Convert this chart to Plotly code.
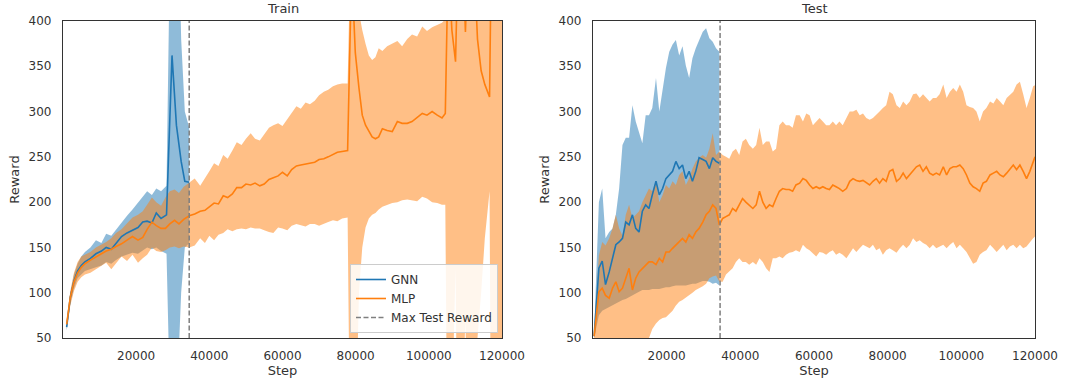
import plotly.graph_objects as go

# ---------------- data ----------------
max_test_step = 34500
y_min, y_max = 50, 400
x_ticks = [20000, 40000, 60000, 80000, 100000, 120000]
y_ticks = [50, 100, 150, 200, 250, 300, 350, 400]

train_gnn_step = [1000, 2000, 3000, 4000, 5000, 6000, 7500, 9000, 10500, 11800, 13200, 14500, 16000,
                  17500, 19000, 20500, 21800, 23000, 24300, 25500, 26800, 28300, 29800, 31000, 32300,
                  33300, 34500]
train_gnn_mean = [62, 95, 113, 124, 130, 134, 138, 143, 146, 150, 148, 155, 162, 166, 169, 172, 178, 179,
                  177, 188, 182, 186, 362, 285, 245, 223, 222]
train_gnn_lo = [58, 88, 105, 116, 120, 124, 126, 128, 130, 134, 132, 136, 140, 142, 144, 143, 147, 150,
                148, 150, 146, 143, -115, -30, 100, 150, 155]
train_gnn_hi = [66, 100, 120, 132, 140, 145, 150, 158, 155, 165, 163, 170, 178, 185, 192, 200, 206, 212,
                208, 215, 212, 218, 640, 600, 380, 300, 282]

train_mlp_step = [1000, 2000, 3000, 4000, 5000, 6000, 7500, 9000, 10500, 11800,
                  13200, 14500, 16000, 17500, 19000, 20500, 21800, 23000, 24300, 25500,
                  26800, 28000, 29200, 30500, 31700, 33000, 34500, 36000, 37500, 38800,
                  40000, 41300, 42500, 43800, 45000, 46300, 47500, 48800, 50000, 51300,
                  52500, 53800, 55000, 56300, 57500, 58800, 60000, 61300, 62500, 63800,
                  65000, 66300, 67500, 68800, 70000, 71300, 72500, 73800, 75000, 76300,
                  77800, 78900, 79900, 80900, 81800, 82700, 83600, 84500, 85400, 86300,
                  87300, 88600, 90000, 91400, 92700, 94100, 95400, 96800, 98200, 99500,
                  100900, 102300, 103600, 104500, 105300, 106300, 107300, 108000, 109300, 110000,
                  110800, 112300, 113300, 114300, 115300, 116600, 117200, 118500, 120000]
train_mlp_mean = [65, 95, 112, 122, 128, 132, 136, 140, 143, 146,
                  148, 151, 154, 158, 162, 158, 161, 170, 178, 174,
                  171, 171, 176, 180, 176, 181, 185, 187, 190, 191,
                  195, 199, 198, 207, 205, 209, 216, 216, 220, 219,
                  221, 218, 220, 225, 227, 229, 233, 229, 236, 240,
                  241, 242, 243, 244, 247, 248, 250, 253, 255, 256,
                  257, 460, 365, 326, 296, 285, 278, 272, 270, 272,
                  281, 279, 278, 289, 287, 287, 289, 293, 298, 296,
                  300, 296, 293, 298, 470, 390, 355, 480, 470, 388,
                  480, 470, 380, 345, 330, 316, 520, 540, 500]
train_mlp_lo = [60, 86, 102, 112, 117, 120, 122, 126, 130, 133,
                126, 132, 140, 135, 142, 133, 138, 142, 150, 146,
                145, 147, 150, 151, 149, 151, 150, 152, 160, 155,
                163, 158, 164, 166, 170, 168, 170, 171, 170, 172,
                171, 171, 169, 167, 166, 172, 171, 169, 174, 176,
                175, 173, 176, 176, 174, 176, 178, 180, 179, 182,
                183, -250, -100, 100, 150, 172, 182, 186, 188, 192,
                195, 197, 199, 200, 202, 203, 202, 201, 206, 204,
                200, 199, 197, 197, -200, -150, 127, -150, -100, 70,
                -100, -100, 50, 100, 160, 212, -250, -300, -250]
train_mlp_hi = [70, 102, 122, 134, 140, 142, 145, 150, 153, 156,
                160, 166, 170, 176, 183, 186, 190, 197, 205, 200,
                196, 205, 212, 214, 210, 217, 222, 226, 218, 226,
                234, 243, 240, 252, 248, 257, 266, 263, 270, 276,
                270, 268, 275, 282, 285, 287, 284, 292, 298, 306,
                303, 310, 308, 312, 318, 322, 324, 328, 330, 331,
                331, 700, 720, 410, 390, 375, 362, 357, 360, 370,
                367, 372, 375, 378, 372, 380, 385, 383, 394, 389,
                393, 396, 398, 402, 700, 700, 650, 720, 700, 680,
                720, 700, 680, 650, 640, 620, 750, 780, 760]

test_gnn_step = [300, 1600, 2500, 3400, 4400, 5300, 6200, 7100, 8000, 8900, 9800, 10700, 11600,
                 12500, 13400, 14300, 15200, 16100, 17100, 18000, 18900, 19800, 20700, 21600,
                 22500, 23400, 24300, 25200, 26100, 27000, 27900, 28800, 29800, 30700, 31600,
                 32500, 33400, 34300]
test_gnn_mean = [52, 127, 135, 109, 123, 138, 153, 156, 160, 178, 175, 186, 171, 167, 190, 197, 193,
                 208, 223, 208, 215, 226, 230, 234, 245, 237, 241, 226, 234, 223, 234, 249, 247, 245,
                 237, 249, 245, 243]
test_gnn_hi = [55, 200, 215, 160, 167, 171, 186, 215, 263, 271, 271, 307, 289, 278, 265, 296, 296, 304,
               337, 300, 326, 348, 366, 374, 379, 362, 372, 351, 337, 359, 370, 379, 388, 392, 381,
               377, 370, 366]
test_gnn_lo = [50, 75, 80, 82, 84, 86, 88, 90, 92, 93, 95, 97, 99, 101, 103, 103, 103, 104, 104, 104,
               105, 106, 106, 107, 108, 108, 108, 108, 109, 110, 110, 111, 113, 113, 112, 110, 111, 108]

test_mlp_step = [300, 1600, 2500, 3400, 4400, 5300, 6200, 7100, 8000, 8900, 9800, 10700, 11600,
                 12500, 13400, 14300, 15200, 16100, 17100, 18000, 18900, 19800, 20700, 21600,
                 22500, 23400, 24300, 25200, 26100, 27000, 27900, 28800, 29800, 30700, 31600,
                 32500, 33400, 34300,
                 35200, 36100,
                 37000, 37900, 38800, 39700, 40600, 41500, 42400, 43400, 44300, 45200, 46100, 47000,
                 47900, 48800, 49700, 50600, 51500, 52400, 53300, 54200, 55100, 56100, 57000, 57900,
                 58800, 59700, 60600, 61500, 62400, 63300, 64200, 65100, 66000, 66900, 67800, 68800,
                 69700, 70600, 71500, 72400, 73300, 74200, 75100, 76000, 76900, 77800, 78700, 79600,
                 80500, 81400, 82400, 83300, 84200, 85100, 86000, 86900, 87800, 88700, 89600, 90500,
                 91400, 92300, 93200, 94100, 95100, 96000, 96900, 97800, 98700, 99600, 100500, 101400,
                 102300, 103200, 104100, 105000, 105900, 106800, 107800, 108700, 109600, 110500,
                 111400, 112300, 113200, 114100, 115000, 115900, 116800, 117700, 118600, 119500,
                 120000]
test_mlp_mean = [52, 101, 105, 97, 94, 105, 112, 101, 105, 116, 127, 103, 116, 123, 127, 131, 134, 134,
                 131, 138, 134, 145, 145, 149, 153, 156, 160, 156, 164, 160, 167, 171, 178, 186, 190,
                 197, 193, 175,
                 182, 184,
                 186, 193, 190, 197, 204, 200, 197, 193, 197, 212, 200, 193, 197, 195, 204, 212, 215,
                 214, 214, 212, 219, 221, 226, 224, 219, 215, 217, 215, 217, 215, 214, 219, 217, 215,
                 212, 215, 223, 226, 224, 223, 224, 221, 219, 223, 226, 221, 226, 223,
                 234, 236, 223, 226, 232, 226, 230, 234, 239, 241, 234, 239, 232, 230, 232, 230, 239,
                 230, 237, 239, 239, 241, 237, 230, 221, 217, 215, 212, 221, 223, 230, 232, 234, 230,
                 228, 232, 237, 241, 236, 241, 234, 226, 234, 245, 250]
test_mlp_hi = [55, 141, 156, 152, 160, 171, 186, 171, 163, 186, 197, 182, 186, 190, 200, 208, 215, 212,
               223, 200, 208, 219, 215, 223, 219, 230, 234, 219, 226, 237, 245, 249, 252, 249, 259,
               276, 252, 256,
               252, 250,
               248, 256, 259, 252, 267, 270, 263, 259, 263, 282, 263, 267, 267, 256, 259, 285, 289,
               285, 285, 282, 296, 296, 289, 298, 296, 285, 289, 293, 289, 285, 285, 289, 285, 289,
               285, 293, 300, 300, 302, 296, 298, 293, 291, 293, 296, 300, 304, 307,
               322, 319, 307, 304, 311, 307, 311, 319, 320, 315, 319, 315, 311, 315, 315, 319, 330,
               315, 322, 326, 322, 330, 322, 307, 305, 304, 300, 289, 300, 304, 311, 309, 315, 311,
               307, 315, 319, 322, 330, 333, 319, 304, 315, 328, 329]
test_mlp_lo = [48, 40, 45, 42, 40, 38, 42, 35, 40, 45, 40, 45, 40, 48, 42, 46, 50, 60, 66, 70, 72, 73,
               76, 80, 86, 90, 92, 95, 97, 100, 103, 105, 107, 110, 116, 118, 119, 112,
               112, 120,
               123, 127, 134, 138, 134, 134, 131, 134, 131, 138, 134, 127, 123, 138, 138, 140, 138,
               142, 144, 145, 147, 145, 153, 149, 147, 144, 140, 145, 144, 142, 145, 147, 142, 144,
               142, 138, 144, 149, 145, 149, 153, 151, 149, 153, 147, 149, 142, 147,
               149, 147, 144, 149, 153, 149, 153, 160, 156, 158, 155, 153, 149, 153, 149, 151, 153,
               149, 153, 156, 149, 153, 149, 145, 138, 132, 134, 142, 145, 147, 153, 149, 145, 149,
               153, 147, 151, 153, 149, 153, 149, 151, 156, 160, 162]

# ---------------- style ----------------
BLUE = "#1f77b4"
ORANGE = "#ff7f0e"
BLUE_FILL = "rgba(31,119,180,0.5)"
ORANGE_FILL = "rgba(255,127,14,0.5)"
TEXT = "#333333"
FONT = "DejaVu Sans"

fig = go.Figure()


def band(x, lo, hi, color, xa, ya):
    return go.Scatter(x=list(x) + list(x)[::-1], y=list(hi) + list(lo)[::-1], mode="lines",
                      fill="toself", fillcolor=color, line=dict(width=0, color=color),
                      hoverinfo="skip", showlegend=False, xaxis=xa, yaxis=ya)


fig.add_trace(band(train_gnn_step, train_gnn_lo, train_gnn_hi, BLUE_FILL, "x", "y"))
fig.add_trace(band(train_mlp_step, train_mlp_lo, train_mlp_hi, ORANGE_FILL, "x", "y"))
fig.add_trace(band(test_gnn_step, test_gnn_lo, test_gnn_hi, BLUE_FILL, "x2", "y2"))
fig.add_trace(band(test_mlp_step, test_mlp_lo, test_mlp_hi, ORANGE_FILL, "x2", "y2"))

fig.add_trace(go.Scatter(x=train_gnn_step, y=train_gnn_mean, mode="lines", name="GNN",
                         line=dict(color=BLUE, width=1.6), legendrank=1, xaxis="x", yaxis="y"))
fig.add_trace(go.Scatter(x=train_mlp_step, y=train_mlp_mean, mode="lines", name="MLP",
                         line=dict(color=ORANGE, width=1.6), legendrank=2, xaxis="x", yaxis="y"))
fig.add_trace(go.Scatter(x=test_gnn_step, y=test_gnn_mean, mode="lines", name="GNN", showlegend=False,
                         line=dict(color=BLUE, width=1.6), xaxis="x2", yaxis="y2"))
fig.add_trace(go.Scatter(x=test_mlp_step, y=test_mlp_mean, mode="lines", name="MLP", showlegend=False,
                         line=dict(color=ORANGE, width=1.6), xaxis="x2", yaxis="y2"))

for xa, ya, show in (("x", "y", True), ("x2", "y2", False)):
    fig.add_trace(go.Scatter(x=[max_test_step, max_test_step], y=[y_min, y_max], mode="lines",
                             name="Max Test Reward", showlegend=show, legendrank=3,
                             line=dict(color="#7f7f7f", width=1.5, dash="5px,2.5px"),
                             xaxis=xa, yaxis=ya))

W, H = 1065, 385


def fx(px):
    return px / W


def fy(py):
    return 1 - py / H


dom_x1 = [fx(63), fx(502)]
dom_x2 = [fx(593), fx(1035)]
dom_y = [fy(338), fy(21)]

axis_common = dict(showgrid=False, zeroline=False, showline=True, mirror=True, automargin=False,
                   linecolor="#333333", linewidth=1.25, ticks="",
                   tickfont=dict(family=FONT, size=12, color=TEXT))

xa_cfg = dict(axis_common, range=[0, 120000], tickvals=x_ticks, ticktext=[str(v) for v in x_ticks],
              ticklabelstandoff=6,
              title=dict(text="Step", font=dict(family=FONT, size=13, color=TEXT), standoff=4))
ya_cfg = dict(axis_common, range=[y_min, y_max], tickvals=y_ticks, ticktext=[str(v) for v in y_ticks],
              ticklabelstandoff=8,
              title=dict(text="Reward", font=dict(family=FONT, size=13, color=TEXT), standoff=6))

fig.update_layout(
    width=W, height=H,
    margin=dict(l=0, r=0, t=0, b=0, autoexpand=False),
    paper_bgcolor="white", plot_bgcolor="white",
    font=dict(family=FONT, size=12, color=TEXT),
    xaxis=dict(xa_cfg, domain=dom_x1, anchor="y"),
    yaxis=dict(ya_cfg, domain=dom_y, anchor="x"),
    xaxis2=dict(xa_cfg, domain=dom_x2, anchor="y2"),
    yaxis2=dict(ya_cfg, domain=dom_y, anchor="x2"),
    legend=dict(x=fx(498), y=fy(333), xanchor="right", yanchor="bottom",
                bgcolor="rgba(255,255,255,0.85)", bordercolor="#cccccc", borderwidth=1,
                font=dict(family=FONT, size=12, color=TEXT), traceorder="normal",
                tracegroupgap=0),
    showlegend=True,
    annotations=[
        dict(text="Train", x=(dom_x1[0] + dom_x1[1]) / 2, y=dom_y[1], xref="paper", yref="paper",
             xanchor="center", yanchor="bottom", yshift=3, showarrow=False,
             font=dict(family=FONT, size=13, color=TEXT)),
        dict(text="Test", x=(dom_x2[0] + dom_x2[1]) / 2, y=dom_y[1], xref="paper", yref="paper",
             xanchor="center", yanchor="bottom", yshift=3, showarrow=False,
             font=dict(family=FONT, size=13, color=TEXT)),
    ],
)

# remove the browser's default 8px body margin so the figure fills the window exactly
fig.write_html("out.html", config={"displayModeBar": False},
               post_script="document.body.style.margin='0';")
